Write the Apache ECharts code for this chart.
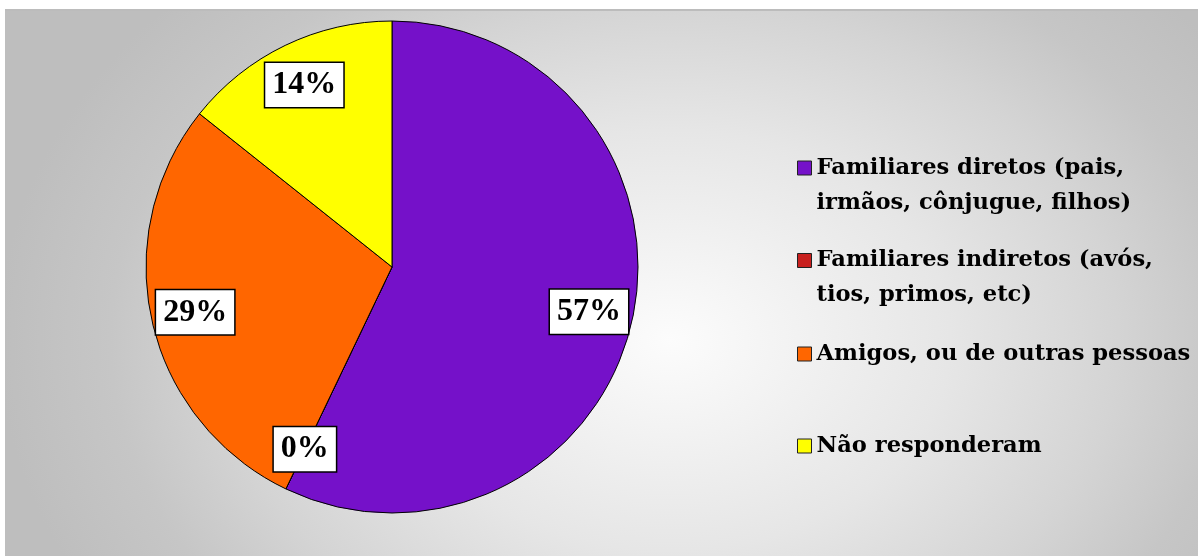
<!DOCTYPE html>
<html>
<head>
<meta charset="utf-8">
<script src="https://cdn.jsdelivr.net/npm/echarts@6/dist/echarts.min.js"></script>
<style>
html,body{margin:0;padding:0;background:#fff;}
#chart{width:1198px;height:556px;}
</style>
</head>
<body>
<div id="chart"></div>
<script>
// Data
const categories = [
  'Familiares diretos (pais,\nirmãos, cônjugue, filhos)',
  'Familiares indiretos (avós,\ntios, primos, etc)',
  'Amigos, ou de outras pessoas',
  'Não responderam'
];
const values = [57.1, 0, 28.6, 14.3];
const colors = ['#7511C9', '#C8201E', '#FF6600', '#FFFF00'];

const chart = echarts.init(document.getElementById('chart'));

const pieData = categories.map((n, i) => ({ name: n, value: values[i], itemStyle: { color: colors[i] } }));
const labelData = categories.map((n, i) => ({ name: n, value: values[i] }));

const legendTops = [115.5, 208, 336.5, 428.5];
const legends = categories.map((n, i) => ({
  data: [n],
  left: 797,
  top: legendTops[i],
  padding: 0,
  orient: 'vertical',
  icon: 'rect',
  itemWidth: 14,
  itemHeight: 14,
  itemStyle: { borderColor: '#222', borderWidth: 1 },
  formatter: name => name.indexOf('\n') >= 0 ? '\n' + name : name,
  textStyle: {
    fontFamily: 'DejaVu Serif',
    fontWeight: 'bold',
    fontSize: 22.6,
    lineHeight: 35,
    color: '#000'
  }
}));

const sy = 0.75, cx = 670, cy = 340;
chart.setOption({
  animation: false,
  backgroundColor: '#fff',
  graphic: [
    {
      type: 'rect', x: cx, y: cy, scaleY: sy, silent: true, z: -10,
      shape: { x: 5 - cx, y: (9 - cy) / sy, width: 1193, height: 547 / sy },
      style: {
        fill: {
          type: 'radial', x: 0, y: 0, r: 672, global: true,
          colorStops: [
            { offset: 0, color: '#fcfcfc' },
            { offset: 0.417, color: '#e6e6e6' },
            { offset: 0.667, color: '#d4d4d4' },
            { offset: 0.833, color: '#c6c6c6' },
            { offset: 1, color: '#bebebe' }
          ]
        }
      }
    },
    { type: 'rect', silent: true, z: -9, shape: { x: 5, y: 9, width: 1193, height: 2 }, style: { fill: '#bcbcbc' } }
  ],
  legend: legends,
  series: [
    {
      type: 'pie',
      center: [392, 267],
      radius: 246,
      startAngle: 90,
      clockwise: true,
      percentPrecision: 0,
      label: { show: false },
      labelLine: { show: false },
      itemStyle: { borderColor: '#000', borderWidth: 1 },
      emphasis: { disabled: true },
      data: pieData
    },
    {
      type: 'pie',
      center: [392, 267],
      radius: [152, 246],
      startAngle: 90,
      clockwise: true,
      percentPrecision: 0,
      silent: true,
      legendHoverLink: false,
      itemStyle: { color: 'rgba(0,0,0,0)', borderWidth: 0 },
      emphasis: { disabled: true },
      labelLine: { show: false },
      label: {
        show: true,
        position: 'inside',
        formatter: '{d}%',
        fontFamily: 'Liberation Serif',
        fontWeight: 'bold',
        fontSize: 32,
        color: '#000',
        backgroundColor: '#fff',
        borderColor: '#000',
        borderWidth: 1.5,
        padding: [6, 7, 6, 7]
      },
      data: labelData
    }
  ]
});
</script>
</body>
</html>
